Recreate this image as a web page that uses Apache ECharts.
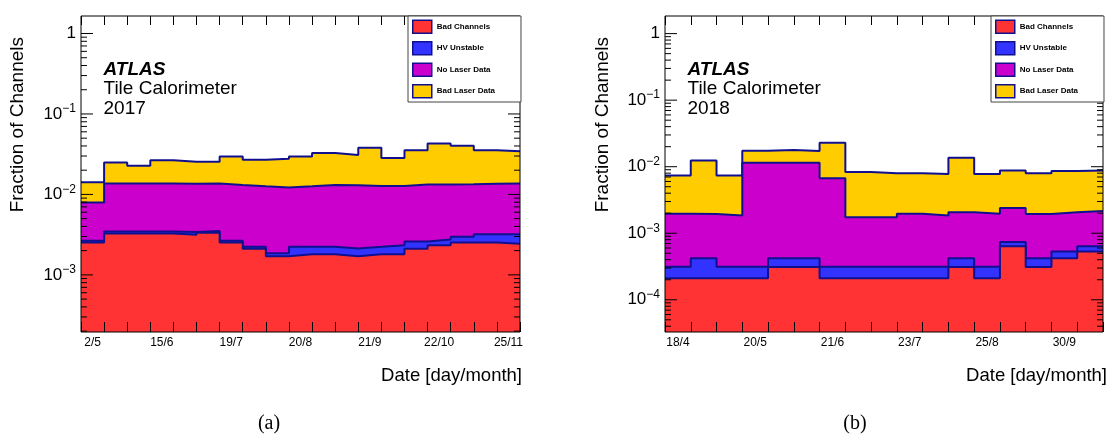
<!DOCTYPE html>
<html><head><meta charset="utf-8">
<script src="https://cdn.jsdelivr.net/npm/echarts@6/dist/echarts.min.js"></script>
<style>html,body{margin:0;padding:0;background:#fff}#c{width:1109px;height:436px}</style>
</head><body><div id="c"></div>
<script>
// ---------- data (fraction of channels per bin, per category) ----------
const binLabels2017 = ['2/5','','','15/6','','','19/7','','','20/8','','','21/9','','','22/10','','','25/11'];
const badChannels2017 = [2.52e-3,3.27e-3,3.27e-3,3.27e-3,3.15e-3,3.35e-3,2.52e-3,2.11e-3,1.71e-3,1.81e-3,1.81e-3,1.71e-3,1.81e-3,1.81e-3,2.11e-3,2.34e-3,2.52e-3,2.52e-3,2.43e-3];
const hvUnstable2017  = [0.13e-3,0.19e-3,0.19e-3,0.19e-3,0.27e-3,0.15e-3,0.13e-3,0.12e-3,0.15e-3,0.42e-3,0.42e-3,0.42e-3,0.42e-3,0.53e-3,0.49e-3,0.41e-3,0.45e-3,0.68e-3,0.77e-3];
const noLaser2017     = [5.30e-3,10.24e-3,10.24e-3,10.24e-3,10.18e-3,10.2e-3,10.45e-3,10.37e-3,10.34e-3,10.37e-3,10.87e-3,10.87e-3,10.47e-3,10.36e-3,10.7e-3,10.55e-3,10.43e-3,10.4e-3,10.5e-3];
const badLaser2017    = [6.25e-3,11.3e-3,9.0e-3,12.8e-3,11.9e-3,11.8e-3,16.6e-3,14.4e-3,15.6e-3,17.1e-3,19.6e-3,17.9e-3,25.4e-3,15.6e-3,22.0e-3,29.5e-3,27.0e-3,21.7e-3,20.6e-3];

const binLabels2018 = ['18/4','','','20/5','','','21/6','','','23/7','','','25/8','','','30/9',''];
const badChannels2018 = [2.1e-4,2.1e-4,2.1e-4,2.1e-4,3.1e-4,3.1e-4,2.1e-4,2.1e-4,2.1e-4,2.1e-4,2.1e-4,3.1e-4,2.1e-4,6.4e-4,3.1e-4,4.2e-4,5.3e-4];
const hvUnstable2018  = [1.05e-4,2.1e-4,1.05e-4,1.05e-4,1.1e-4,1.1e-4,1.05e-4,1.05e-4,1.05e-4,1.05e-4,1.05e-4,1.1e-4,1.05e-4,1.0e-4,1.1e-4,1.1e-4,1.1e-4];
const noLaser2018     = [1.64e-3,1.53e-3,1.54e-3,11.19e-3,11.08e-3,11.08e-3,6.39e-3,1.43e-3,1.43e-3,1.64e-3,1.54e-3,1.65e-3,1.64e-3,1.66e-3,1.53e-3,1.54e-3,1.51e-3];
const badLaser2018    = [5.45e-3,10.45e-3,5.55e-3,5.9e-3,6.3e-3,5.7e-3,16.2e-3,6.56e-3,6.26e-3,6.05e-3,5.91e-3,11.53e-3,5.81e-3,6.4e-3,6.05e-3,6.53e-3,6.65e-3];

const categoryNames = ['Bad Channels','HV Unstable','No Laser Data','Bad Laser Data'];
const yMajorExps = [-5,-4,-3,-2,-1,0];
const yMinorMults = [2,3,4,5,6,7,8,9];

// ---------- styling ----------
const FONT = '"Liberation Sans", Arial, Helvetica, sans-serif';
const NAVY = '#10108f';
const FILLS = ['#ff3333','#3333ff','#cc00cc','#ffcc00'];

const panels = [
  {left:81, width:439, yMin:1.95e-4, yMax:1.65, labels:binLabels2017,
   layers:[badChannels2017,hvUnstable2017,noLaser2017,badLaser2017],
   year:'2017', caption:'(a)', captionX:269, ytitleX:18, xtitleRight:522},
  {left:665, width:438, yMin:3.28e-5, yMax:1.84, labels:binLabels2018,
   layers:[badChannels2018,hvUnstable2018,noLaser2018,badLaser2018],
   year:'2018', caption:'(b)', captionX:855, ytitleX:603, xtitleRight:1107}
];

const option = {
  animation:false,
  backgroundColor:'#fff',
  textStyle:{fontFamily:FONT},
  grid:[], xAxis:[], yAxis:[], series:[], legend:[], graphic:[]
};

// stacked (cumulative) histogram heights, as THStack draws them
function cumulate(layers){
  const out = []; let run = layers[0].map(()=>0);
  layers.forEach(l => { run = run.map((r,i)=>r + l[i]); out.push(run.slice()); });
  return out;
}
function stepPoints(vals){
  const pts = vals.map((v,i)=>[i,v]);
  pts.push([vals.length, vals[vals.length-1]]);
  return pts;
}
function yLabel(v){
  const l = Math.log10(v), e = Math.round(l);
  if (Math.abs(l-e) > 1e-6) return '';
  if (e === 0) return '1';
  return '10{sup|\u2212' + (-e) + '}';
}

panels.forEach((p, gi) => {
  const n = p.labels.length;
  const top = 16, height = 316;
  option.grid.push({left:p.left, top:top, width:p.width, height:height, show:true,
    borderColor:'#000', borderWidth:1, backgroundColor:'transparent', z:10, outerBoundsMode:'none'});
  option.xAxis.push({type:'category', gridIndex:gi, data:p.labels, position:'bottom', boundaryGap:true, z:10,
    axisLine:{show:false}, splitLine:{show:false},
    axisTick:{show:true, inside:true, length:10, interval:0, lineStyle:{color:'#000', width:1}},
    axisLabel:{interval:0, fontSize:12, color:'#000', margin:5, fontFamily:FONT}});
  option.xAxis.push({type:'category', gridIndex:gi, data:p.labels, position:'top', boundaryGap:true, z:10,
    axisLine:{show:false}, splitLine:{show:false}, axisLabel:{show:false},
    axisTick:{show:true, inside:true, length:9, interval:0, lineStyle:{color:'#000', width:1}}});
  const xv = option.xAxis.length;
  option.xAxis.push({type:'value', gridIndex:gi, min:0, max:n, show:false});
  const yi = option.yAxis.length;
  option.yAxis.push({type:'log', logBase:10, gridIndex:gi, min:p.yMin, max:p.yMax,
    axisLine:{show:false}, axisTick:{show:false}, splitLine:{show:false},
    axisLabel:{formatter:yLabel, fontSize:17, color:'#000', margin:5, fontFamily:FONT,
      showMinLabel:false, showMaxLabel:false,
      rich:{sup:{fontSize:12, color:'#000', fontFamily:FONT, padding:[0,0,10,0]}}}});

  const cum = cumulate(p.layers);
  cum.forEach((vals, li) => {
    option.series.push({type:'line', name:categoryNames[li], xAxisIndex:xv, yAxisIndex:yi,
      data:stepPoints(vals), step:'end', symbol:'none', silent:true,
      z:6-li,
      lineStyle:{color:NAVY, width:2},
      itemStyle:{color:FILLS[li]},
      areaStyle:{color:FILLS[li], opacity:1, origin:'start'}});
  });

  // log-axis tick marks on left and right frame
  const ticks = [];
  yMajorExps.forEach(e => {
    const base = Math.pow(10, e);
    if (base >= p.yMin && base <= p.yMax) ticks.push([0, base, 1]);
    yMinorMults.forEach(m => { const v = m*base; if (v >= p.yMin && v <= p.yMax) ticks.push([0, v, 0]); });
  });
  option.series.push({type:'custom', xAxisIndex:xv, yAxisIndex:yi, data:ticks, encode:{x:0, y:1},
    silent:true, z:11, clip:false,
    renderItem:function(params, api){
      const v = api.value(1), major = api.value(2);
      const pl = api.coord([0, v]), pr = api.coord([n, v]);
      const len = major ? 12 : 6;
      return {type:'group', children:[
        {type:'line', shape:{x1:pl[0], y1:pl[1], x2:pl[0]+len, y2:pl[1]}, style:{stroke:'#000', lineWidth:1}},
        {type:'line', shape:{x1:pr[0]-len, y1:pr[1], x2:pr[0], y2:pr[1]}, style:{stroke:'#000', lineWidth:1}}
      ]};
    }});

  option.legend.push({left:p.left+p.width-112, top:16, orient:'vertical', icon:'rect',
    itemWidth:19, itemHeight:13, itemGap:7, data:categoryNames, selectedMode:false,
    backgroundColor:'#fff', borderColor:'#444', borderWidth:1, borderRadius:0, padding:[3.5,26,3.5,4],
    textStyle:{fontSize:8, fontWeight:'bold', color:'#000', fontFamily:FONT},
    itemStyle:{borderColor:NAVY, borderWidth:1.5}, z:20});

  const tx = p.left + 22.5;
  option.graphic.push(
    {type:'text', x:tx, y:70, z:30, style:{text:'ATLAS', font:'italic bold 19px '+FONT, fill:'#000', align:'left', verticalAlign:'middle'}},
    {type:'text', x:tx, y:89, z:30, style:{text:'Tile Calorimeter', font:'19px '+FONT, fill:'#000', align:'left', verticalAlign:'middle'}},
    {type:'text', x:tx, y:109, z:30, style:{text:p.year, font:'19px '+FONT, fill:'#000', align:'left', verticalAlign:'middle'}},
    {type:'text', x:p.ytitleX, y:37, rotation:Math.PI/2, z:30, style:{text:'Fraction of Channels', font:'19px '+FONT, fill:'#000', align:'right', verticalAlign:'middle'}},
    {type:'text', x:p.xtitleRight, y:376, z:30, style:{text:'Date [day/month]', font:'18.5px '+FONT, fill:'#000', align:'right', verticalAlign:'middle'}},
    {type:'text', x:p.captionX, y:424, z:30, style:{text:p.caption, font:'20px "Liberation Serif", "Times New Roman", serif', fill:'#000', align:'center', verticalAlign:'middle'}}
  );
});

const chart = echarts.init(document.getElementById('c'), null, {renderer:'canvas'});
chart.setOption(option);
</script>
</body></html>
